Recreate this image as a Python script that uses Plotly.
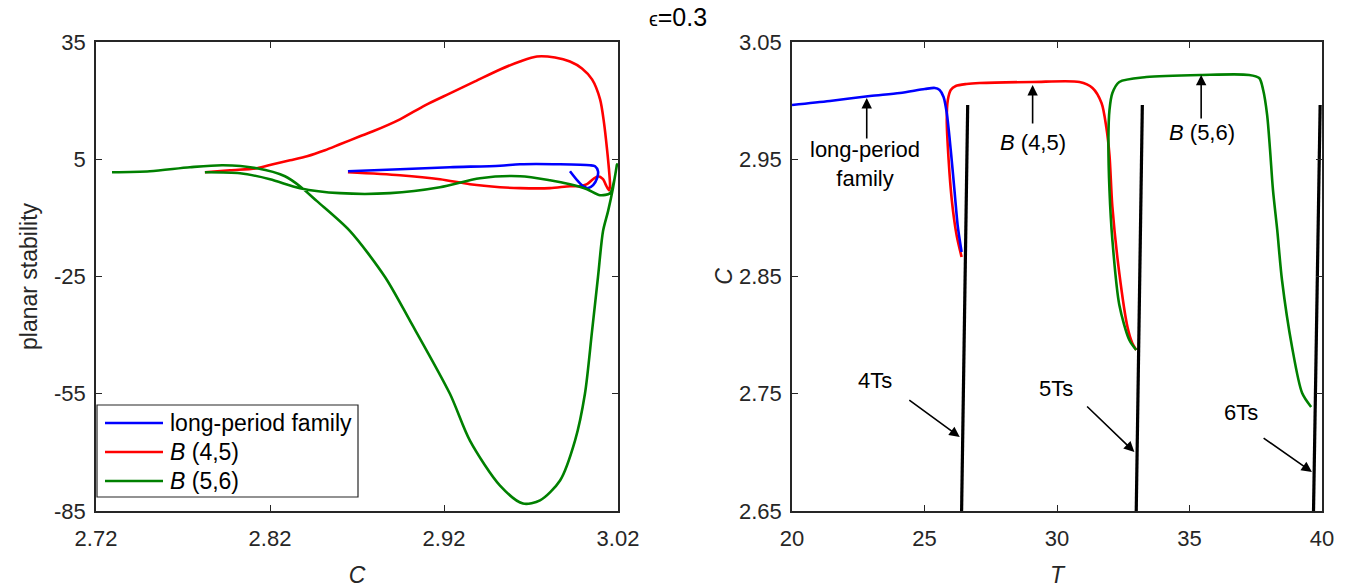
import plotly.graph_objects as go

# ---------------- left panel: planar stability vs C ----------------
blue_C = [2.8648, 2.8947, 2.9234, 2.9522, 2.9637, 2.9867, 3.0039, 3.0068, 3.0085,
          3.0080, 3.0057, 3.0028, 2.9999, 2.9970, 2.9924]
blue_S = [1.94, 2.45, 2.96, 3.34, 3.72, 3.72, 3.47, 3.21, 1.94,
          0.15, -1.64, -2.40, -1.89, -0.62, 1.94]

red_C = [2.7826, 2.7970, 2.8125, 2.8217, 2.8315, 2.8413, 2.8516, 2.8602, 2.8717, 2.8792,
         2.8947, 2.9091, 2.9234, 2.9378, 2.9522, 2.9637, 2.9734, 2.9838, 2.9924, 2.9993,
         3.0051, 3.0097, 3.0120, 3.0137, 3.0148, 3.0154, 3.0148, 3.0131, 3.0114, 3.0085,
         3.0056, 3.0022, 2.9982, 2.9924, 2.9809, 2.9637, 2.9522, 2.9349, 2.9177, 2.8947,
         2.8648]
red_S = [1.68, 2.19, 2.70, 3.72, 4.74, 5.77, 7.30, 8.83, 10.87, 12.15,
         15.21, 18.79, 21.85, 24.91, 27.98, 30.02, 31.30, 31.04, 30.02, 28.23,
         25.43, 20.32, 14.19, 7.55, 2.45, -1.89, -2.91, -1.64, -0.11, 0.66,
         -0.11, -1.38, -1.89, -1.89, -2.40, -2.40, -2.15, -1.38, -0.11, 0.91,
         1.68]

green_C = [2.7292, 2.7510, 2.7740, 2.7930, 2.8125, 2.8286, 2.8372, 2.8470, 2.8660, 2.8861,
           2.9005, 2.9234, 2.9349, 2.9522, 2.9654, 2.9752, 2.9867, 2.9953, 3.0010, 3.0051,
           3.0085, 3.0114, 3.0143, 3.0171, 3.0194, 3.0177, 3.0154, 3.0097, 3.0022, 2.9924,
           2.9809, 2.9637, 2.9407, 2.9177, 2.8890, 2.8602, 2.8372, 2.8200, 2.8028, 2.7826]
green_S = [1.68, 1.94, 2.96, 3.47, 2.70, 0.66, -1.89, -5.72, -13.38, -25.13,
           -36.36, -55.0, -67.0, -78.5, -83.1, -82.3, -77.2, -67.0, -55.0, -38.9,
           -25.13, -13.38, -8.28, -2.40, 3.72, -0.62, -3.68, -4.19, -2.66, -1.38,
           -0.36, 0.66, 0.15, -2.15, -3.68, -3.68, -2.40, -0.11, 1.43, 1.68]

# ---------------- right panel: C vs T ----------------
blue_T = [20.0, 21.43, 22.94, 24.07, 25.01, 25.39, 25.57, 25.72, 25.84, 25.99, 26.14, 26.25, 26.40]
blue_C2 = [2.9963, 2.9997, 3.0039, 3.0065, 3.0099, 3.0108, 3.0091, 3.0031, 2.9894, 2.9579,
           2.9212, 2.8939, 2.8709]

red_T = [26.40, 26.21, 26.03, 25.91, 25.84, 25.88, 25.99, 26.18, 26.59, 27.08, 29.08, 30.85,
         31.34, 31.68, 31.86, 31.98, 32.09, 32.35, 32.66, 32.84, 32.99]
red_C2 = [2.8666, 2.8854, 2.9152, 2.9494, 2.9835, 3.0005, 3.0091, 3.0125, 3.0142, 3.0150,
          3.0159, 3.0159, 3.0108, 2.9980, 2.9775, 2.9536, 2.9093, 2.8530, 2.8069, 2.7933, 2.7873]

green_T = [32.99, 32.73, 32.35, 32.09, 31.98, 31.94, 31.98, 32.09, 32.35, 33.37, 35.48, 37.25,
           37.63, 37.78, 37.93, 38.04, 38.15, 38.31, 38.49, 38.87, 39.25, 39.59]
green_C2 = [2.7873, 2.7958, 2.8260, 2.8811, 2.9238, 2.9664, 2.9920, 3.0065, 3.0159, 3.0201,
            3.0219, 3.0219, 3.0193, 3.0091, 2.9877, 2.9579, 2.9238, 2.8897, 2.8470, 2.7899,
            2.7506, 2.7387]

black_C = [2.65, 2.9963]
ts4_T = [26.40, 26.63]
ts5_T = [32.99, 33.22]
ts6_T = [39.68, 39.93]

left_xticks = [2.72, 2.82, 2.92, 3.02]
left_yticks = [-85, -55, -25, 5, 35]
right_xticks = [20, 25, 30, 35, 40]
right_yticks = [2.65, 2.75, 2.85, 2.95, 3.05]

legend_names = ["long-period family", "<i>B</i> (4,5)", "<i>B</i> (5,6)"]

BLUE = "#0000FF"
RED = "#FF0000"
GREEN = "#008000"
AX = "#262626"
FONT = "Liberation Sans, Arial, sans-serif"

W, H = 1347, 588


def px(x):
    return x / W


def py(y):
    return 1 - y / H


def line(color, width=2.6):
    return dict(color=color, width=width, shape="spline", smoothing=0.8)


fig = go.Figure()
fig.add_trace(go.Scatter(x=red_C, y=red_S, mode="lines", name=legend_names[1],
                         line=line(RED), showlegend=False, xaxis="x", yaxis="y"))
fig.add_trace(go.Scatter(x=blue_C, y=blue_S, mode="lines", name=legend_names[0],
                         line=line(BLUE), showlegend=False, xaxis="x", yaxis="y"))
fig.add_trace(go.Scatter(x=green_C, y=green_S, mode="lines", name=legend_names[2],
                         line=line(GREEN), showlegend=False, xaxis="x", yaxis="y"))

fig.add_trace(go.Scatter(x=red_T, y=red_C2, mode="lines", showlegend=False,
                         line=line(RED), xaxis="x2", yaxis="y2"))
fig.add_trace(go.Scatter(x=blue_T, y=blue_C2, mode="lines", showlegend=False,
                         line=line(BLUE), xaxis="x2", yaxis="y2"))
fig.add_trace(go.Scatter(x=green_T, y=green_C2, mode="lines", showlegend=False,
                         line=line(GREEN), xaxis="x2", yaxis="y2"))
for tt in (ts4_T, ts5_T, ts6_T):
    fig.add_trace(go.Scatter(x=tt, y=black_C, mode="lines", showlegend=False,
                             line=dict(color="black", width=3.2), xaxis="x2", yaxis="y2"))

axis_common = dict(showline=True, linecolor=AX, linewidth=1.5, mirror="ticks",
                   ticks="inside", ticklen=6, tickwidth=1.3, tickcolor=AX,
                   showgrid=False, zeroline=False, automargin=False,
                   tickfont=dict(family=FONT, size=22, color=AX))

ydom = [py(511), py(42)]
title_font = dict(family=FONT, size=23, color=AX)
fig.update_layout(
    xaxis=dict(axis_common, domain=[px(96), px(618)], anchor="y", range=[2.72, 3.02],
               tickvals=left_xticks, ticktext=[f"{v:.2f}" for v in left_xticks],
               ticklabelstandoff=7,
               title=dict(text="<i>C</i>", font=title_font, standoff=27)),
    yaxis=dict(axis_common, domain=ydom, anchor="x", range=[-85, 35],
               tickvals=left_yticks, ticktext=[str(v) for v in left_yticks],
               ticklabelstandoff=4,
               title=dict(text="planar stability", font=title_font, standoff=10)),
    xaxis2=dict(axis_common, domain=[px(792), px(1322)], anchor="y2", range=[20, 40],
                tickvals=right_xticks, ticktext=[str(v) for v in right_xticks],
                ticklabelstandoff=7,
                title=dict(text="<i>T</i>", font=title_font, standoff=27)),
    yaxis2=dict(axis_common, domain=ydom, anchor="x2", range=[2.65, 3.05],
                tickvals=right_yticks, ticktext=[f"{v:.2f}" for v in right_yticks],
                ticklabelstandoff=4,
                title=dict(text="<i>C</i>", font=title_font, standoff=0)),
    title=dict(text="<span style='font-size:20px'>ϵ</span>=0.3", x=px(678), y=py(17),
               xanchor="center", yanchor="middle", xref="paper", yref="paper",
               font=dict(family=FONT, size=25, color="black")),
    width=W, height=H, margin=dict(l=0, r=0, t=0, b=0),
    plot_bgcolor="white", paper_bgcolor="white", template="none", showlegend=False,
)

# legend box drawn like the reference (long line samples)
fig.add_shape(type="rect", xref="paper", yref="paper", x0=px(97), x1=px(358), y0=py(497), y1=py(405),
              line=dict(color=AX, width=1.2), fillcolor="white", layer="above")
for i, (nm, col) in enumerate(zip(legend_names, [BLUE, RED, GREEN])):
    ry = 423 + 29 * i
    fig.add_shape(type="line", xref="paper", yref="paper", x0=px(105), x1=px(163), y0=py(ry), y1=py(ry),
                  line=dict(color=col, width=2.6), layer="above")
    fig.add_annotation(x=px(168), y=py(ry), xref="paper", yref="paper", text=nm, showarrow=False,
                       xanchor="left", yanchor="middle",
                       font=dict(family=FONT, size=23, color="black"))

ann_font = dict(family=FONT, size=22, color="black")
texts = [
    ("long-period<br>family", 22.75, 2.9459),
    ("<i>B</i> (4,5)", 29.08, 2.9647),
    ("<i>B</i> (5,6)", 35.48, 2.9724),
    ("4Ts", 23.13, 2.7617),
    ("5Ts", 29.98, 2.7549),
    ("6Ts", 36.95, 2.7344),
]
for txt, tx, ty in texts:
    fig.add_annotation(x=tx, y=ty, xref="x2", yref="y2", text=txt, showarrow=False,
                       font=ann_font, align="center")

arrows = [  # (head T, head C, tail T, tail C)
    (22.82, 3.0022, 22.82, 2.9664),
    (29.08, 3.0133, 29.08, 2.9792),
    (35.44, 3.0219, 35.44, 2.9835),
    (26.33, 2.7131, 24.37, 2.7455),
    (32.92, 2.7003, 31.08, 2.7404),
    (39.62, 2.6833, 37.74, 2.7131),
]
for hx, hy, tx, ty in arrows:
    fig.add_annotation(x=hx, y=hy, ax=tx, ay=ty, xref="x2", yref="y2", axref="x2", ayref="y2",
                       text="", showarrow=True, arrowhead=2, arrowsize=1.3, arrowwidth=1.6,
                       arrowcolor="black", standoff=0, startstandoff=0)

fig.write_html("out.html",
               config={"displayModeBar": False},
               post_script="document.body.style.margin='0px';document.body.style.padding='0px';"
                           "document.body.style.overflow='hidden';")
